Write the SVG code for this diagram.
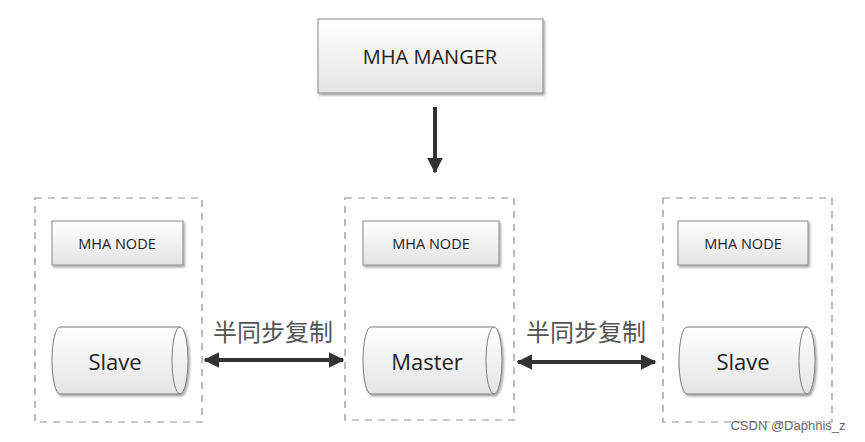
<svg xmlns="http://www.w3.org/2000/svg" width="865" height="442" viewBox="0 0 865 442">
<defs>
<linearGradient id="g" x1="0" y1="0" x2="0" y2="1">
<stop offset="0" stop-color="#ffffff"/>
<stop offset="1" stop-color="#e4e4e4"/>
</linearGradient>
<filter id="sh" x="-10%" y="-10%" width="130%" height="140%">
<feDropShadow dx="1.5" dy="2" stdDeviation="1.2" flood-color="#000" flood-opacity="0.35"/>
</filter>
<marker id="ah" viewBox="0 0 10 10" refX="9" refY="5" markerWidth="4" markerHeight="4" orient="auto-start-reverse" markerUnits="strokeWidth">
<path d="M0,0 L10,5 L0,10 Z" fill="#333"/>
</marker>
</defs>
<style>
.box{fill:url(#g);stroke:#8a8a8a;stroke-width:1;filter:url(#sh)}
.grp{fill:none;stroke:#8f8f8f;stroke-width:1.2;stroke-dasharray:7,6}
.cyl{fill:url(#g);stroke:#7a7a7a;stroke-width:1;filter:url(#sh)}
.t{font-family:"Open Sans","Liberation Sans",sans-serif;fill:#222;text-anchor:middle;dominant-baseline:central}
.cn{font-family:"Noto Sans CJK SC",sans-serif;fill:#555;font-size:24px;text-anchor:middle;dominant-baseline:central}
.ln{stroke:#333;stroke-width:4;fill:none}
</style>
<rect width="865" height="442" fill="#fff"/>

<g id="manager">
<rect class="box" x="318" y="19" width="225" height="74"/>
<text class="t" x="430" y="56" font-size="20">MHA MANGER</text>
</g>

<g id="group-left">
<rect class="grp" x="35" y="198" width="167" height="224"/>
<g id="node-left">
<rect class="box" x="52" y="221" width="131" height="44"/>
<text class="t" x="117" y="243" font-size="14.5">MHA NODE</text>
</g>
<g id="slave-left">
<path class="cyl" d="M60,327 L180,327 A8,33.5 0 0 1 180,394 L60,394 A8,33.5 0 0 1 60,327 Z"/>
<path d="M180,327 A8,33.5 0 0 0 180,394" fill="none" stroke="#7a7a7a" stroke-width="1"/>
<text class="t" x="115" y="361" font-size="22">Slave</text>
</g>
</g>

<g id="group-mid">
<rect class="grp" x="345" y="198" width="169" height="222"/>
<g id="node-mid">
<rect class="box" x="363" y="221" width="136" height="44"/>
<text class="t" x="431" y="243" font-size="14.5">MHA NODE</text>
</g>
<g id="master">
<path class="cyl" d="M371,327 L494,327 A8,33.5 0 0 1 494,394 L371,394 A8,33.5 0 0 1 371,327 Z"/>
<path d="M494,327 A8,33.5 0 0 0 494,394" fill="none" stroke="#7a7a7a" stroke-width="1"/>
<text class="t" x="427" y="361" font-size="22">Master</text>
</g>
</g>

<g id="group-right">
<rect class="grp" x="663" y="198" width="169" height="224"/>
<g id="node-right">
<rect class="box" x="678" y="221" width="130" height="44"/>
<text class="t" x="743" y="243" font-size="14.5">MHA NODE</text>
</g>
<g id="slave-right">
<path class="cyl" d="M687,327 L807,327 A8,33.5 0 0 1 807,394 L687,394 A8,33.5 0 0 1 687,327 Z"/>
<path d="M807,327 A8,33.5 0 0 0 807,394" fill="none" stroke="#7a7a7a" stroke-width="1"/>
<text class="t" x="743" y="361" font-size="22">Slave</text>
</g>
</g>

<g id="connectors">
<line class="ln" x1="435" y1="107" x2="435" y2="172" marker-end="url(#ah)" stroke-width="3"/>
<line class="ln" x1="205" y1="360" x2="343" y2="360" marker-start="url(#ah)" marker-end="url(#ah)"/>
<text class="cn" x="273" y="330">半同步复制</text>
<line class="ln" x1="518" y1="362" x2="655" y2="362" marker-start="url(#ah)" marker-end="url(#ah)"/>
<text class="cn" x="586" y="330">半同步复制</text>
</g>

<text x="788" y="425" font-family="Liberation Sans, sans-serif" font-size="13" fill="#666" text-anchor="middle" dominant-baseline="central">CSDN @Daphnis_z</text>
</svg>
